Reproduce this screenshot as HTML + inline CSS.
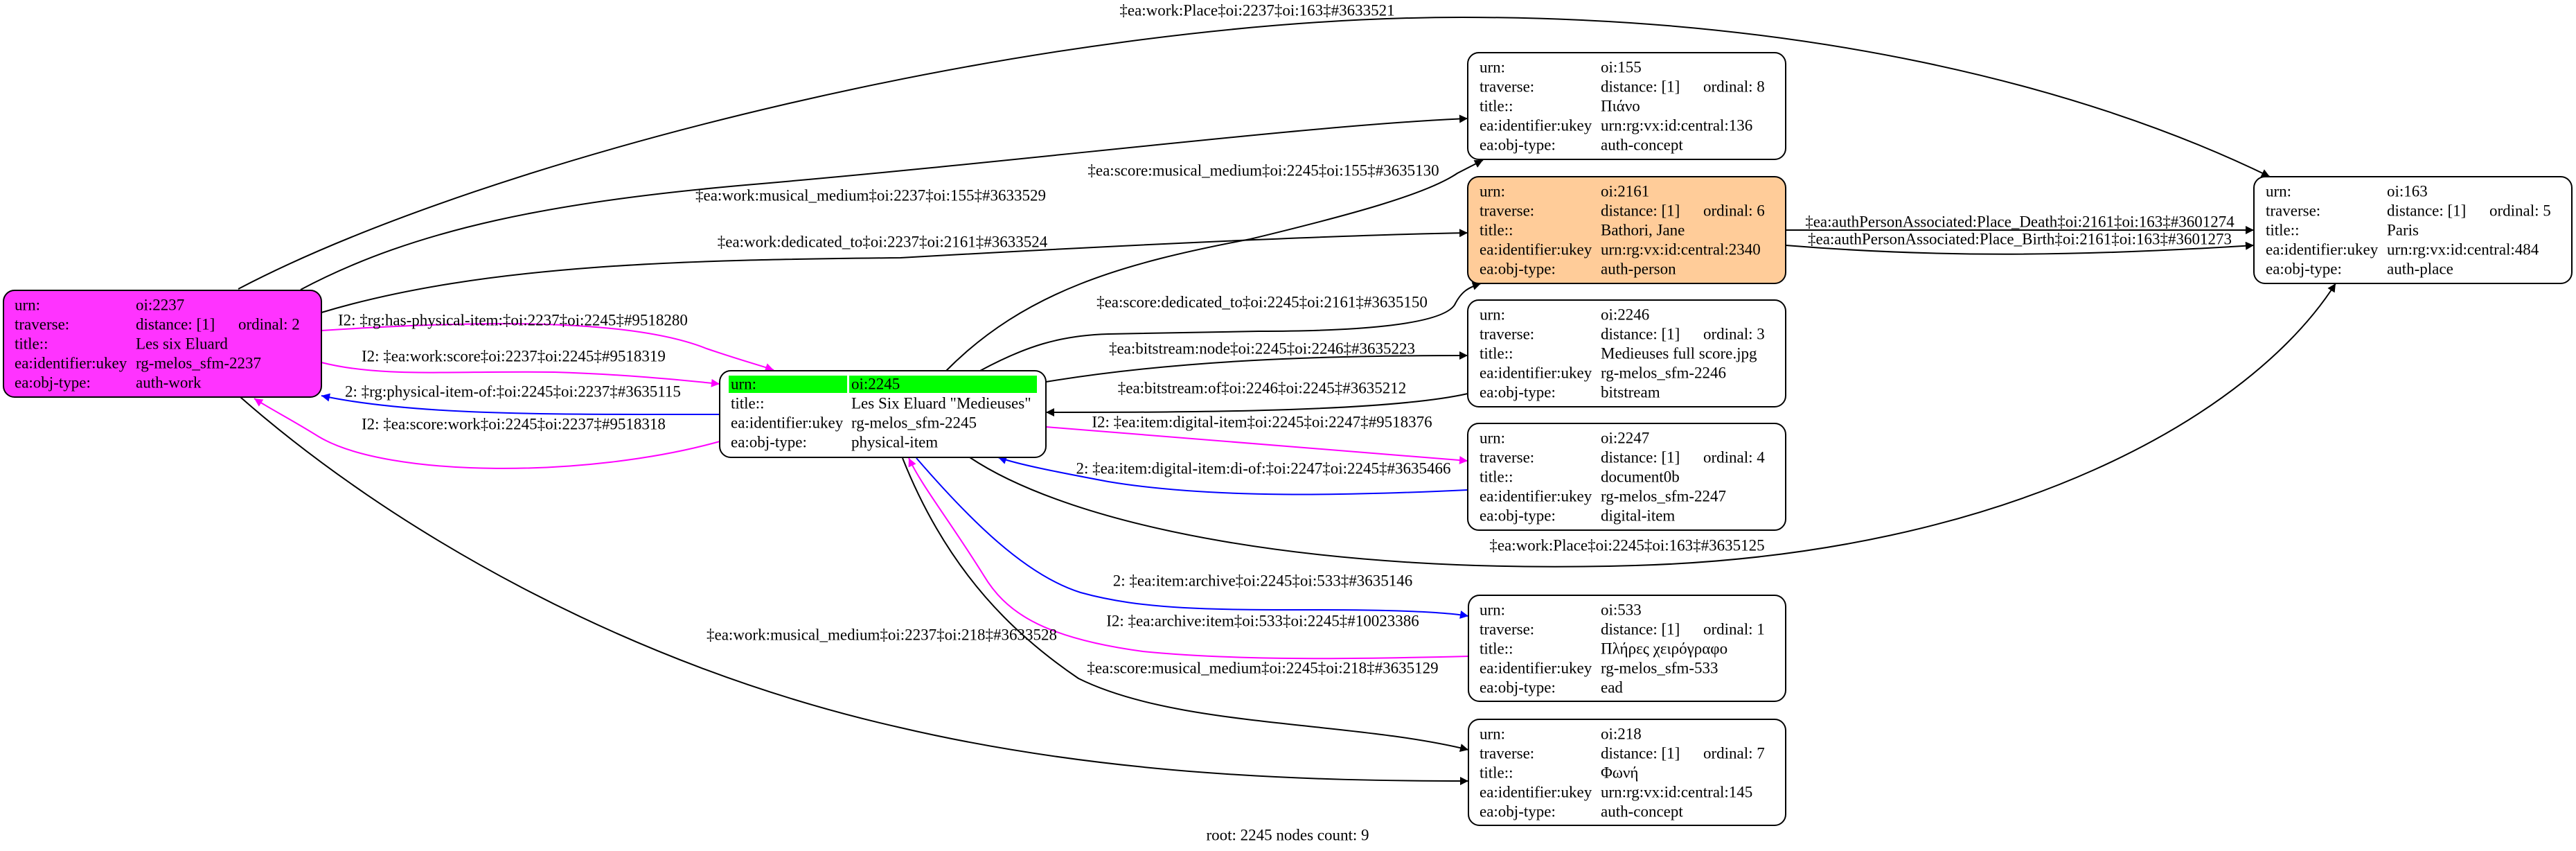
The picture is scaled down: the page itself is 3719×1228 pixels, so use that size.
<!DOCTYPE html>
<html><head><meta charset="utf-8"><style>
html,body{margin:0;padding:0;background:#fff;}
svg{display:block;}
text{font-family:"Liberation Serif","DejaVu Serif",serif;font-size:23px;fill:#000;}
</style></head><body>
<svg width="3719" height="1228" viewBox="0 0 3719 1228" xmlns="http://www.w3.org/2000/svg">
<defs>
<marker id="ak" viewBox="0 0 10 10" refX="10" refY="5" markerWidth="16" markerHeight="12" markerUnits="userSpaceOnUse" orient="auto"><path d="M0,0 L10,5 L0,10 z" fill="#000"/></marker>
<marker id="am" viewBox="0 0 10 10" refX="10" refY="5" markerWidth="16" markerHeight="12" markerUnits="userSpaceOnUse" orient="auto"><path d="M0,0 L10,5 L0,10 z" fill="#ff00ff"/></marker>
<marker id="ab" viewBox="0 0 10 10" refX="10" refY="5" markerWidth="16" markerHeight="12" markerUnits="userSpaceOnUse" orient="auto"><path d="M0,0 L10,5 L0,10 z" fill="#0000ff"/></marker>
</defs>
<g fill="none" stroke-width="2">
<path d="M344,417 C 700,230 1500,25 2111,25 C 2600,25 3000,120 3277,255" stroke="#000" marker-end="url(#ak)"/>
<path d="M434,418 C 600,330 800,290 1100,265 C 1500,230 1900,180 2119,171" stroke="#000" marker-end="url(#ak)"/>
<path d="M464,451 C 700,380 1000,375 1300,372 C 1600,355 1900,340 2119,336" stroke="#000" marker-end="url(#ak)"/>
<path d="M464,477 C 650,465 900,455 1020,503 C 1070,520 1100,528 1117,534" stroke="#ff00ff" marker-end="url(#am)"/>
<path d="M464,523 C 550,545 650,535 800,537 C 900,540 980,548 1039,554" stroke="#ff00ff" marker-end="url(#am)"/>
<path d="M1039,598 C 800,598 600,600 464,571" stroke="#0000ff" marker-end="url(#ab)"/>
<path d="M1039,637 C 850,690 560,690 460,630 C 420,605 390,590 367,575" stroke="#ff00ff" marker-end="url(#am)"/>
<path d="M347,573 C 560,760 900,960 1300,1050 C 1600,1120 1900,1127 2120,1127" stroke="#000" marker-end="url(#ak)"/>
<path d="M1366,535 C 1480,420 1620,380 1805,345 C 1950,310 2060,280 2104,250 L 2141,231" stroke="#000" marker-end="url(#ak)"/>
<path d="M1415,535 C 1480,500 1530,484 1600,482 L 1817,478 C 1950,478 2080,470 2100,440 C 2110,420 2120,415 2138,409" stroke="#000" marker-end="url(#ak)"/>
<path d="M1510,551 C 1700,520 1900,513 2119,513" stroke="#000" marker-end="url(#ak)"/>
<path d="M2119,568 C 2000,595 1700,595 1510,595" stroke="#000" marker-end="url(#ak)"/>
<path d="M1510,616 L 2119,665" stroke="#ff00ff" marker-end="url(#am)"/>
<path d="M2119,707 C 1950,715 1750,720 1600,695 C 1520,680 1470,670 1441,660" stroke="#0000ff" marker-end="url(#ab)"/>
<path d="M1400,660 C 1550,760 1900,830 2361,816 C 2900,800 3250,600 3372,409" stroke="#000" marker-end="url(#ak)"/>
<path d="M1323,661 C 1400,750 1480,830 1560,855 C 1650,880 1750,880 1900,880 C 2000,880 2080,882 2120,889" stroke="#0000ff" marker-end="url(#ab)"/>
<path d="M2120,947 C 2000,950 1800,955 1650,940 C 1500,920 1450,880 1420,830 C 1370,750 1330,700 1312,661" stroke="#ff00ff" marker-end="url(#am)"/>
<path d="M1303,661 C 1370,830 1470,920 1557,979 C 1700,1050 1950,1040 2120,1082" stroke="#000" marker-end="url(#ak)"/>
<path d="M2578,332 L 3254,332" stroke="#000" marker-end="url(#ak)"/>
<path d="M2578,354 C 2800,372 3000,370 3254,354" stroke="#000" marker-end="url(#ak)"/>
</g>
<g dominant-baseline="central">
<text x="1815" y="15" text-anchor="middle">‡ea:work:Place‡oi:2237‡oi:163‡#3633521</text>
<text x="1257" y="282" text-anchor="middle">‡ea:work:musical_medium‡oi:2237‡oi:155‡#3633529</text>
<text x="1274" y="349" text-anchor="middle">‡ea:work:dedicated_to‡oi:2237‡oi:2161‡#3633524</text>
<text x="488" y="462">I2: ‡rg:has-physical-item:‡oi:2237‡oi:2245‡#9518280</text>
<text x="522" y="514">I2: ‡ea:work:score‡oi:2237‡oi:2245‡#9518319</text>
<text x="498" y="565">2: ‡rg:physical-item-of:‡oi:2245‡oi:2237‡#3635115</text>
<text x="522" y="612">I2: ‡ea:score:work‡oi:2245‡oi:2237‡#9518318</text>
<text x="1273" y="916" text-anchor="middle">‡ea:work:musical_medium‡oi:2237‡oi:218‡#3633528</text>
<text x="1824" y="246" text-anchor="middle">‡ea:score:musical_medium‡oi:2245‡oi:155‡#3635130</text>
<text x="1822" y="436" text-anchor="middle">‡ea:score:dedicated_to‡oi:2245‡oi:2161‡#3635150</text>
<text x="1822" y="503" text-anchor="middle">‡ea:bitstream:node‡oi:2245‡oi:2246‡#3635223</text>
<text x="1822" y="560" text-anchor="middle">‡ea:bitstream:of‡oi:2246‡oi:2245‡#3635212</text>
<text x="1822" y="609" text-anchor="middle">I2: ‡ea:item:digital-item‡oi:2245‡oi:2247‡#9518376</text>
<text x="1824" y="676" text-anchor="middle">2: ‡ea:item:digital-item:di-of:‡oi:2247‡oi:2245‡#3635466</text>
<text x="2349" y="787" text-anchor="middle">‡ea:work:Place‡oi:2245‡oi:163‡#3635125</text>
<text x="1823" y="838" text-anchor="middle">2: ‡ea:item:archive‡oi:2245‡oi:533‡#3635146</text>
<text x="1823" y="896" text-anchor="middle">I2: ‡ea:archive:item‡oi:533‡oi:2245‡#10023386</text>
<text x="1823" y="964" text-anchor="middle">‡ea:score:musical_medium‡oi:2245‡oi:218‡#3635129</text>
<text x="2916" y="320" text-anchor="middle">‡ea:authPersonAssociated:Place_Death‡oi:2161‡oi:163‡#3601274</text>
<text x="2916" y="345" text-anchor="middle">‡ea:authPersonAssociated:Place_Birth‡oi:2161‡oi:163‡#3601273</text>
<text x="1859" y="1205" text-anchor="middle">root: 2245 nodes count: 9</text>
</g>
<g stroke="#000" stroke-width="2">
<rect x="5" y="419" width="459" height="154" rx="16" fill="#ff33ff"/>
<rect x="1039" y="535" width="471" height="125" rx="16" fill="#fff"/>
<rect x="2119" y="76" width="459" height="154" rx="16" fill="#fff"/>
<rect x="2119" y="255" width="459" height="154" rx="16" fill="#ffcc99"/>
<rect x="2119" y="433" width="459" height="154" rx="16" fill="#fff"/>
<rect x="2119" y="611" width="459" height="154" rx="16" fill="#fff"/>
<rect x="2120" y="859" width="458" height="153" rx="16" fill="#fff"/>
<rect x="2120" y="1038" width="458" height="153" rx="16" fill="#fff"/>
<rect x="3254" y="255" width="459" height="154" rx="16" fill="#fff"/>
</g>
<rect x="1052" y="542" width="171" height="25" fill="#00ff00"/>
<rect x="1226" y="542" width="271" height="25" fill="#00ff00"/>
<g dominant-baseline="central">
<text x="21" y="440">urn:</text><text x="196" y="440">oi:2237</text>
<text x="21" y="468">traverse:</text><text x="196" y="468">distance: [1]</text><text x="344" y="468">ordinal: 2</text>
<text x="21" y="496">title::</text><text x="196" y="496">Les six Eluard</text>
<text x="21" y="524">ea:identifier:ukey</text><text x="196" y="524">rg-melos_sfm-2237</text>
<text x="21" y="552">ea:obj-type:</text><text x="196" y="552">auth-work</text>
<text x="1055" y="554">urn:</text><text x="1229" y="554">oi:2245</text>
<text x="1055" y="582">title::</text><text x="1229" y="582">Les Six Eluard "Medieuses"</text>
<text x="1055" y="610">ea:identifier:ukey</text><text x="1229" y="610">rg-melos_sfm-2245</text>
<text x="1055" y="638">ea:obj-type:</text><text x="1229" y="638">physical-item</text>
<text x="2136" y="97">urn:</text><text x="2311" y="97">oi:155</text>
<text x="2136" y="125">traverse:</text><text x="2311" y="125">distance: [1]</text><text x="2459" y="125">ordinal: 8</text>
<text x="2136" y="153">title::</text><text x="2311" y="153">Πιάνο</text>
<text x="2136" y="181">ea:identifier:ukey</text><text x="2311" y="181">urn:rg:vx:id:central:136</text>
<text x="2136" y="209">ea:obj-type:</text><text x="2311" y="209">auth-concept</text>
<text x="2136" y="276">urn:</text><text x="2311" y="276">oi:2161</text>
<text x="2136" y="304">traverse:</text><text x="2311" y="304">distance: [1]</text><text x="2459" y="304">ordinal: 6</text>
<text x="2136" y="332">title::</text><text x="2311" y="332">Bathori, Jane</text>
<text x="2136" y="360">ea:identifier:ukey</text><text x="2311" y="360">urn:rg:vx:id:central:2340</text>
<text x="2136" y="388">ea:obj-type:</text><text x="2311" y="388">auth-person</text>
<text x="2136" y="454">urn:</text><text x="2311" y="454">oi:2246</text>
<text x="2136" y="482">traverse:</text><text x="2311" y="482">distance: [1]</text><text x="2459" y="482">ordinal: 3</text>
<text x="2136" y="510">title::</text><text x="2311" y="510">Medieuses full score.jpg</text>
<text x="2136" y="538">ea:identifier:ukey</text><text x="2311" y="538">rg-melos_sfm-2246</text>
<text x="2136" y="566">ea:obj-type:</text><text x="2311" y="566">bitstream</text>
<text x="2136" y="632">urn:</text><text x="2311" y="632">oi:2247</text>
<text x="2136" y="660">traverse:</text><text x="2311" y="660">distance: [1]</text><text x="2459" y="660">ordinal: 4</text>
<text x="2136" y="688">title::</text><text x="2311" y="688">document0b</text>
<text x="2136" y="716">ea:identifier:ukey</text><text x="2311" y="716">rg-melos_sfm-2247</text>
<text x="2136" y="744">ea:obj-type:</text><text x="2311" y="744">digital-item</text>
<text x="2136" y="880">urn:</text><text x="2311" y="880">oi:533</text>
<text x="2136" y="908">traverse:</text><text x="2311" y="908">distance: [1]</text><text x="2459" y="908">ordinal: 1</text>
<text x="2136" y="936">title::</text><text x="2311" y="936">Πλήρες χειρόγραφο</text>
<text x="2136" y="964">ea:identifier:ukey</text><text x="2311" y="964">rg-melos_sfm-533</text>
<text x="2136" y="992">ea:obj-type:</text><text x="2311" y="992">ead</text>
<text x="2136" y="1059">urn:</text><text x="2311" y="1059">oi:218</text>
<text x="2136" y="1087">traverse:</text><text x="2311" y="1087">distance: [1]</text><text x="2459" y="1087">ordinal: 7</text>
<text x="2136" y="1115">title::</text><text x="2311" y="1115">Φωνή</text>
<text x="2136" y="1143">ea:identifier:ukey</text><text x="2311" y="1143">urn:rg:vx:id:central:145</text>
<text x="2136" y="1171">ea:obj-type:</text><text x="2311" y="1171">auth-concept</text>
<text x="3271" y="276">urn:</text><text x="3446" y="276">oi:163</text>
<text x="3271" y="304">traverse:</text><text x="3446" y="304">distance: [1]</text><text x="3594" y="304">ordinal: 5</text>
<text x="3271" y="332">title::</text><text x="3446" y="332">Paris</text>
<text x="3271" y="360">ea:identifier:ukey</text><text x="3446" y="360">urn:rg:vx:id:central:484</text>
<text x="3271" y="388">ea:obj-type:</text><text x="3446" y="388">auth-place</text>
</g>
</svg>
</body></html>
